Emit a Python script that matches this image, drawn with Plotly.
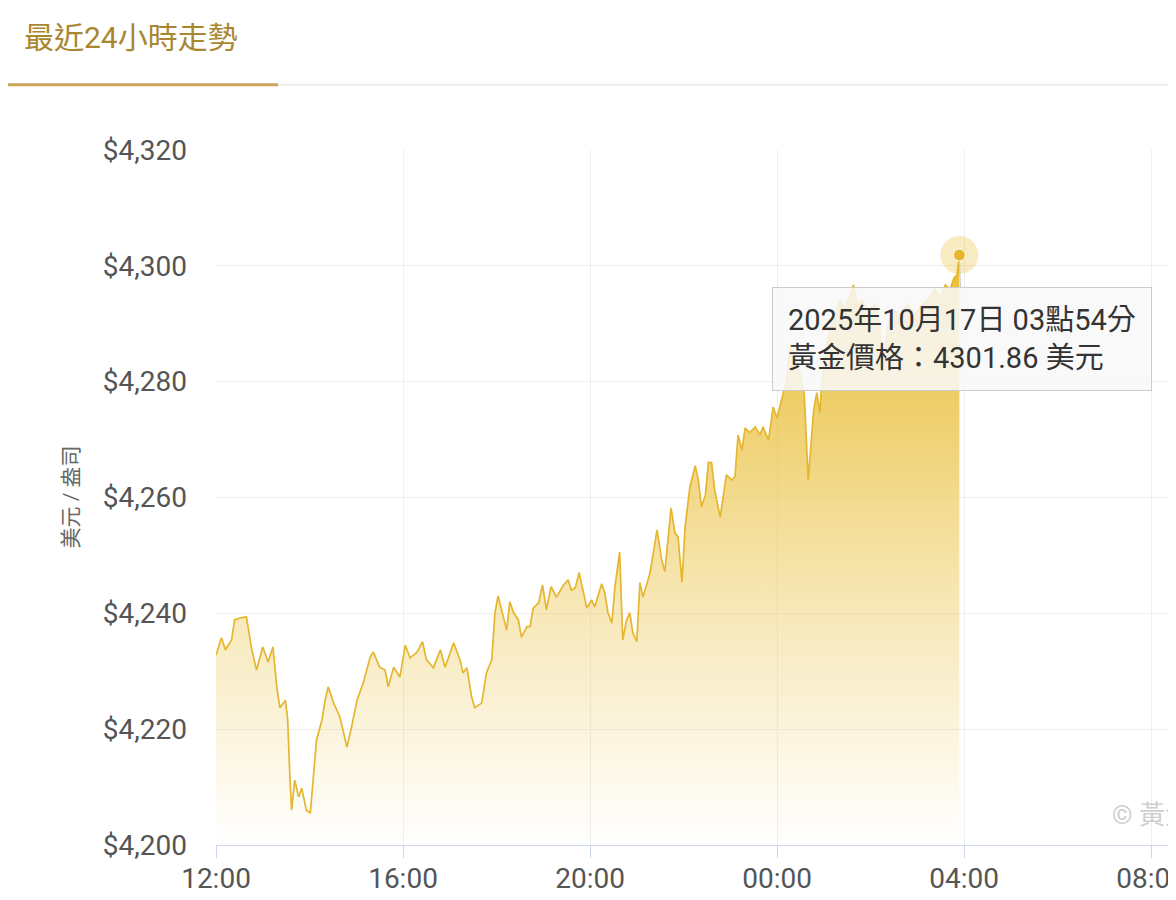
import plotly.graph_objects as go
from datetime import datetime

# 24h gold price trend, 2025-10-16 12:00 -> 2025-10-17 03:54
times = [
    "12:00", "12:07", "12:12", "12:20", "12:24", "12:31", "12:39", "12:46", "12:52", "13:00",
    "13:07", "13:13", "13:18", "13:22", "13:29", "13:32", "13:35", "13:37", "13:41", "13:46",
    "13:50", "13:56", "14:01", "14:05", "14:09", "14:16", "14:20", "14:24", "14:31", "14:39",
    "14:48", "14:54", "15:01", "15:09", "15:18", "15:22", "15:30", "15:37", "15:41", "15:48",
    "15:56", "16:03", "16:09", "16:18", "16:25", "16:30", "16:39", "16:48", "16:54", "17:05",
    "17:13", "17:17", "17:22", "17:28", "17:32", "17:41", "17:47", "17:54", "17:58", "18:02",
    "18:07", "18:13", "18:17", "18:22", "18:28", "18:32", "18:39", "18:43", "18:47", "18:54",
    "18:59", "19:04", "19:10", "19:17", "19:26", "19:32", "19:36", "19:41", "19:46", "19:51",
    "19:56", "20:02", "20:06", "20:15", "20:19", "20:23", "20:28", "20:32", "20:38", "20:42",
    "20:47", "20:51", "20:55", "21:00", "21:04", "21:08", "21:17", "21:26", "21:32", "21:36",
    "21:40", "21:44", "21:49", "21:53", "21:58", "22:02", "22:08", "22:15", "22:19", "22:23",
    "22:28", "22:32", "22:36", "22:40", "22:47", "22:51", "22:55", "23:02", "23:06", "23:10",
    "23:15", "23:19", "23:25", "23:32", "23:38", "23:42", "23:49", "23:55", "00:00", "00:08",
    "00:12", "00:17", "00:23", "00:30", "00:35", "00:40", "00:47", "00:51", "00:55", "00:57",
    "01:03", "01:08", "01:14", "01:21", "01:27", "01:34", "01:38", "01:43", "01:49", "01:57",
    "02:06", "02:12", "02:16", "02:21", "02:29", "02:38", "02:47", "02:57", "03:06", "03:14",
    "03:23", "03:29", "03:36", "03:42", "03:47", "03:51", "03:54",
]

prices = [
    4232.8, 4235.8, 4233.7, 4235.4, 4238.9, 4239.2, 4239.4, 4233.7, 4230.2, 4234.2,
    4231.6, 4234.2, 4227.3, 4223.7, 4225.0, 4221.6, 4211.2, 4206.0, 4211.2, 4208.3,
    4209.8, 4206.0, 4205.5, 4211.2, 4218.1, 4221.6, 4225.0, 4227.3, 4224.5, 4222.1,
    4216.9, 4220.4, 4225.0, 4228.0, 4232.5, 4233.3, 4230.7, 4230.2, 4227.3, 4230.7,
    4229.0, 4234.5, 4232.3, 4233.3, 4235.1, 4232.0, 4230.6, 4233.7, 4230.7, 4234.9,
    4232.0, 4229.7, 4230.6, 4225.6, 4223.7, 4224.5, 4229.7, 4232.0, 4240.1, 4243.0,
    4240.1, 4237.1, 4242.0, 4240.1, 4238.9, 4235.9, 4237.7, 4237.7, 4240.9, 4241.8,
    4244.9, 4240.6, 4244.6, 4242.8, 4244.9, 4245.8, 4244.0, 4244.4, 4247.0, 4244.0,
    4240.9, 4242.3, 4241.1, 4245.1, 4243.5, 4240.1, 4238.3, 4244.6, 4250.6, 4235.4,
    4238.9, 4240.1, 4236.6, 4235.1, 4245.3, 4242.8, 4247.0, 4254.4, 4249.2, 4247.2,
    4253.2, 4258.2, 4253.9, 4253.2, 4245.4, 4254.9, 4261.7, 4265.5, 4263.0, 4258.4,
    4260.4, 4266.1, 4266.0, 4261.3, 4256.6, 4260.1, 4263.9, 4263.0, 4263.6, 4270.8,
    4268.2, 4272.0, 4271.2, 4272.2, 4270.8, 4272.2, 4269.9, 4275.6, 4273.7, 4278.1,
    4279.8, 4286.4, 4284.6, 4281.2, 4277.7, 4263.0, 4275.1, 4278.1, 4274.6, 4279.1,
    4285.5, 4289.0, 4291.5, 4294.1, 4292.4, 4295.0, 4296.7, 4293.3, 4294.1, 4292.4,
    4293.3, 4289.0, 4281.2, 4289.0, 4292.4, 4291.5, 4293.3, 4291.5, 4293.3, 4294.1,
    4295.9, 4294.6, 4296.7, 4295.9, 4297.9, 4298.4, 4301.86,
]

y_ticks = [4200, 4220, 4240, 4260, 4280, 4300, 4320]
y_ticktext = [f"${v:,}" for v in y_ticks]
x_start = "2025-10-16 12:00"
x_end = "2025-10-17 08:32"

GOLD = "#e5b62e"
FONT = "Roboto, 'Noto Sans CJK TC', sans-serif"
W, H = 1168, 892  # page body adds an 8px margin

# times before noon belong to the next day
x_vals = []
for t in times:
    day = "2025-10-16" if int(t[:2]) >= 12 else "2025-10-17"
    x_vals.append(datetime.strptime(day + " " + t, "%Y-%m-%d %H:%M"))

last_x, last_y = x_vals[-1], prices[-1]

fig = go.Figure()

fig.add_trace(go.Scatter(
    x=x_vals,
    y=prices,
    mode="lines",
    line=dict(color=GOLD, width=1.7),
    fill="tozeroy",
    fillgradient=dict(
        type="vertical",
        start=4200,
        stop=4300,
        colorscale=[
            [0, "rgba(231,184,36,0.0)"],
            [0.4, "rgba(231,184,36,0.32)"],
            [1, "rgba(231,184,36,0.92)"],
        ],
    ),
    hoverinfo="skip",
    showlegend=False,
))

# hovered point: halo + dot
fig.add_trace(go.Scatter(
    x=[last_x], y=[last_y], mode="markers",
    marker=dict(size=38, color="rgba(231,184,36,0.28)"),
    hoverinfo="skip", showlegend=False,
))
fig.add_trace(go.Scatter(
    x=[last_x], y=[last_y], mode="markers",
    marker=dict(size=12, color=GOLD, line=dict(color="white", width=1)),
    hoverinfo="skip", showlegend=False,
))

# empty trace on a twin axis that only carries the outside tick marks
fig.add_trace(go.Scatter(x=[x_start], y=[None], xaxis="x2", showlegend=False, hoverinfo="skip"))

# tooltip box
fig.add_annotation(
    x=last_x, y=last_y,
    text=f"2025年10月17日 03點54分<br>黃金價格：{last_y:.2f} 美元",
    align="left",
    font=dict(family=FONT, size=29, color="#333333"),
    bgcolor="rgba(248,248,248,0.86)",
    bordercolor="#cccccc",
    borderwidth=1,
    borderpad=15,
    showarrow=True,
    arrowhead=0,
    arrowwidth=1,
    arrowcolor="#c8c8c8",
    standoff=8,
    ax=3, ay=84,
)

# y-axis unit label
fig.add_annotation(
    x=-0.152, y=0.5, xref="paper", yref="paper",
    xanchor="center", yanchor="middle",
    text="美元 / 盎司", textangle=-90, showarrow=False,
    font=dict(family=FONT, size=21, color="#666666"),
)

# watermark (cut off at the right edge like the original)
fig.add_annotation(
    x=0.931, y=0.043, xref="paper", yref="paper",
    xanchor="left", yanchor="middle",
    text="© 黃金價格", showarrow=False,
    font=dict(family=FONT, size=26, color="#cfcfcf"),
)

# tab header underline
fig.add_shape(type="line", xref="paper", yref="paper",
              x0=0.0646, x1=1.0, y0=1.094, y1=1.094,
              line=dict(color="#eeeeee", width=2))
fig.add_shape(type="line", xref="paper", yref="paper",
              x0=-0.225, x1=0.0646, y0=1.094, y1=1.094,
              line=dict(color="#c9a65a", width=3))

fig.update_layout(
    width=W,
    height=H,
    margin=dict(l=208, r=0, t=142, b=55),
    paper_bgcolor="white",
    plot_bgcolor="white",
    font=dict(family=FONT, color="#555555"),
    title=dict(
        text="最近24小時走勢",
        x=16 / W, xanchor="left", xref="container",
        y=1 - 29 / H, yanchor="middle", yref="container",
        font=dict(family=FONT, size=30, color="#a8872e"),
    ),
    xaxis=dict(
        range=[x_start, x_end],
        tick0=x_start,
        dtick=4 * 3600 * 1000,
        tickformat="%H:%M",
        tickfont=dict(size=28, color="#555555"),
        ticklabeloverflow="allow",
        showgrid=True,
        gridcolor="#efefef",
        gridwidth=1,
        showline=True,
        linecolor="#ccd6eb",
        linewidth=1,
        ticks="",
        ticklabelstandoff=8,
        zeroline=False,
        automargin=False,
    ),
    xaxis2=dict(
        overlaying="x",
        matches="x",
        side="bottom",
        anchor="y",
        tick0=x_start,
        dtick=4 * 3600 * 1000,
        showticklabels=False,
        showgrid=False,
        ticks="outside",
        ticklen=12,
        tickcolor="#ccd6eb",
        zeroline=False,
        automargin=False,
    ),
    yaxis=dict(
        range=[4200, 4320],
        tickvals=y_ticks,
        ticktext=y_ticktext,
        tickfont=dict(size=28, color="#555555"),
        showgrid=True,
        gridcolor="#efefef",
        gridwidth=1,
        zeroline=False,
        showline=False,
        ticks="",
        ticklabelstandoff=28,
        automargin=False,
    ),
)

fig.write_html("out.html")
